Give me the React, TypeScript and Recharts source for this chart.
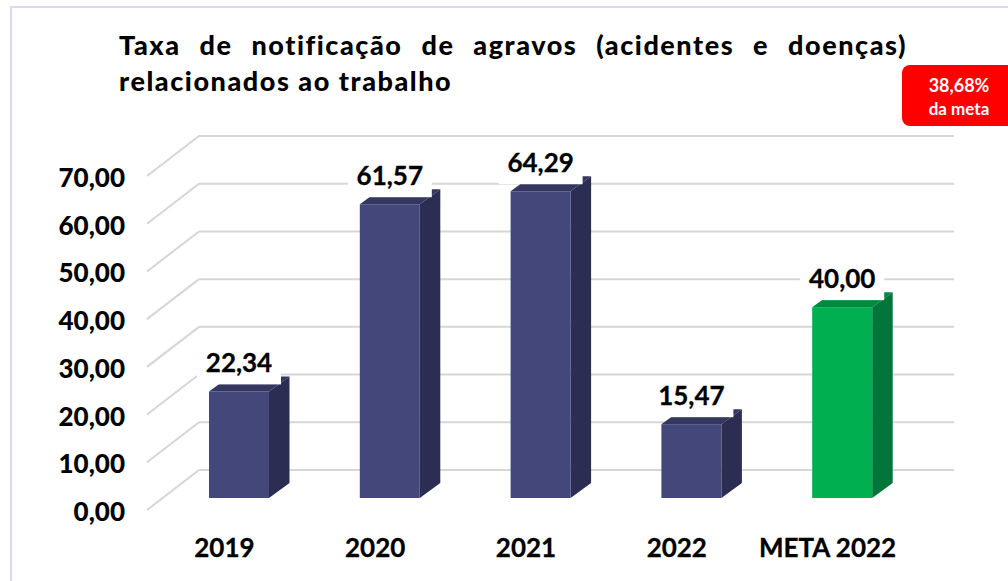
import React from "react";
import { BarChart, Bar, XAxis, YAxis, CartesianGrid, LabelList } from "recharts";

const categories = ["2019", "2020", "2021", "2022", "META 2022"];
const values = [22.34, 61.57, 64.29, 15.47, 40.0];
const yTicks = [0, 10, 20, 30, 40, 50, 60, 70];

const frontColors = ["#44477a", "#44477a", "#44477a", "#44477a", "#00b050"];
const sideColors = ["#2b2e52", "#2b2e52", "#2b2e52", "#2b2e52", "#00763a"];
const topColors = ["#34375f", "#34375f", "#34375f", "#34375f", "#008a40"];

const data = categories.map((name, i) => ({ name, value: values[i] }));

const fmt = (v: number) => v.toFixed(2).replace(".", ",");
const labelFont = "Lato, 'Open Sans', sans-serif";

// depth of the fake 3D bars
const DX = 20.5;
const DY = 15;

const Bar3D = (props: any) => {
  const { x, y, width, height, index } = props;
  const r = x + width;
  const b = y + height;
  return (
    <g>
      <polygon points={`${x},${y} ${x + DX},${y - DY} ${r + DX},${y - DY} ${r},${y}`} fill={topColors[index]} />
      <polygon points={`${r},${y} ${r + DX},${y - DY} ${r + DX},${b - DY} ${r},${b}`} fill={sideColors[index]} />
      <rect x={x} y={y} width={width} height={height} fill={frontColors[index]} />
    </g>
  );
};

// white box behind the value, it also hides the grid and the bar's back edge
const ValueLabel = (props: any) => {
  const { x, y, width, value } = props;
  const cx = x + width / 2;
  return (
    <g>
      <rect x={cx - 42} y={y - 43} width={84} height={36} fill="#fff" />
      <text
        x={cx}
        y={y - 19}
        textAnchor="middle"
        fontFamily={labelFont}
        fontWeight={700}
        fontSize={26}
        fill="#000"
        stroke="#000"
        strokeWidth={0.3}
      >
        {fmt(value)}
      </text>
    </g>
  );
};

// wall line plus the diagonal on the left side
const GridLine = (props: any) => {
  const { x1, x2, y1 } = props;
  return (
    <g stroke="#d6d6d6" strokeWidth={2} fill="none">
      <line x1={x1 - 17} y1={y1 + 12} x2={x1 + 35} y2={y1 - 28} />
      <line x1={x1 + 35} y1={y1 - 28} x2={x2 + 36} y2={y1 - 28} />
    </g>
  );
};

const YTick = (props: any) => {
  const { x, y, payload } = props;
  return (
    <text
      x={x - 33}
      y={y + 23}
      textAnchor="end"
      fontFamily={labelFont}
      fontWeight={900}
      fontSize={26}
      fill="#000"
    >
      {fmt(payload.value)}
    </text>
  );
};

const XTick = (props: any) => {
  const { x, y, payload } = props;
  return (
    <text
      x={x - 15}
      y={y + 13}
      textAnchor="middle"
      fontFamily={labelFont}
      fontWeight={700}
      fontSize={26}
      fill="#000"
      stroke="#000"
      strokeWidth={0.3}
    >
      {payload.value}
    </text>
  );
};

export default function App() {
  return (
    <div style={{ position: "absolute", left: 0, top: 0, width: 1008, height: 581, background: "#fff", overflow: "hidden" }}>
      <div
        style={{
          position: "absolute",
          left: 10,
          top: 6,
          width: 1010,
          height: 590,
          borderLeft: "2px solid #d9daf0",
          borderTop: "2px solid #d9daf0",
        }}
      />
      <BarChart
        width={1008}
        height={581}
        data={data}
        margin={{ top: 164, right: 90, bottom: 43, left: 124 }}
        style={{ position: "absolute", left: 0, top: 0 }}
      >
        <CartesianGrid vertical={false} horizontal={GridLine as any} />
        <XAxis dataKey="name" interval={0} axisLine={false} tickLine={false} height={40} tick={XTick as any} tickMargin={40} />
        <YAxis domain={[0, 70]} ticks={yTicks} width={40} axisLine={false} tickLine={false} tick={YTick as any} tickMargin={0} />
        <Bar dataKey="value" barSize={60} shape={Bar3D as any} isAnimationActive={false}>
          <LabelList dataKey="value" content={ValueLabel as any} />
        </Bar>
      </BarChart>
      <div
        style={{
          position: "absolute",
          left: 119,
          top: 27,
          width: 788,
          fontFamily: labelFont,
          fontWeight: 900,
          fontSize: 27,
          lineHeight: "36px",
          letterSpacing: 1.55,
          color: "#000",
          textAlign: "justify",
        }}
      >
        Taxa de notificação de agravos (acidentes e doenças) relacionados ao trabalho
      </div>
      <div
        style={{
          position: "absolute",
          left: 902,
          top: 65,
          width: 114,
          height: 61,
          borderRadius: 8,
          background: "#ff0000",
        }}
      />
      <div
        style={{
          position: "absolute",
          left: 902,
          top: 73,
          width: 114,
          textAlign: "center",
          fontFamily: labelFont,
          fontWeight: 700,
          lineHeight: "24px",
          color: "#fff",
        }}
      >
        <div style={{ fontSize: 18 }}>38,68%</div>
        <div style={{ fontSize: 17 }}>da meta</div>
      </div>
    </div>
  );
}
